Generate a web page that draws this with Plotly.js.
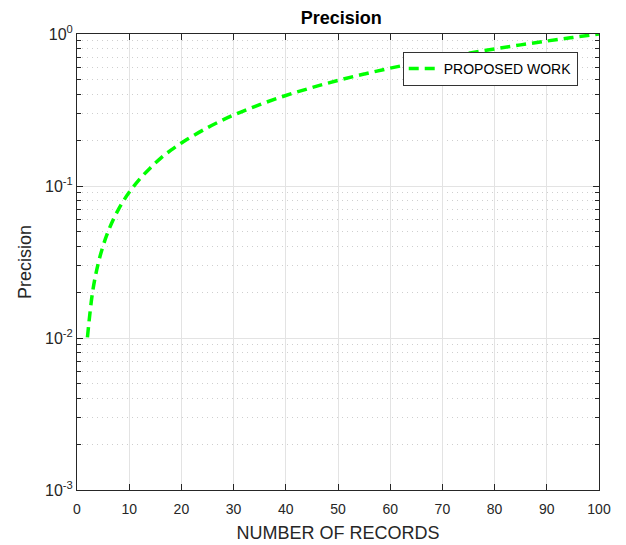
<!DOCTYPE html>
<html>
<head>
<meta charset="utf-8">
<script src="https://cdn.plot.ly/plotly-3.0.1.min.js"></script>
<style>html,body{margin:0;padding:0;background:#fff;}#chart{width:626px;height:545px;}</style>
</head>
<body>
<div id="chart"></div>
<script>
const records = [2,3,4,5,6,7,8,9,10,12,14,16,18,20,25,30,35,40,45,50,55,60,65,70,75,80,85,90,95,100];
const precision = [0.0101,0.0202,0.0303,0.0404,0.0505,0.0606,0.0707,0.0808,0.0909,0.111,0.131,0.152,0.172,0.192,0.242,0.293,0.343,0.394,0.444,0.495,0.545,0.596,0.646,0.697,0.747,0.798,0.848,0.899,0.949,1.0];
const yTickVals = [0.001,0.01,0.1,1];
const yTickText = ['10<sup>-3</sup>','10<sup>-2</sup>','10<sup>-1</sup>','10<sup>0</sup>'];
const xTickVals = [0,10,20,30,40,50,60,70,80,90,100];

const minorVals = [];
[0.001,0.01,0.1].forEach(d => { for (let k = 2; k <= 9; k++) minorVals.push(d*k); });

const trace = {
  x: records, y: precision, type: 'scatter', mode: 'lines',
  name: 'PROPOSED WORK',
  line: {color: '#00ff00', width: 3.5, dash: '10px,6px', shape: 'spline'}
};

const layout = {
  width: 626, height: 545,
  margin: {l: 76.5, r: 27, t: 34, b: 55},
  paper_bgcolor: '#fff', plot_bgcolor: '#fff',
  font: {family: 'Liberation Sans, Arial, sans-serif', color: '#262626'},
  title: {text: '<b>Precision</b>', x: 0.545, xanchor: 'center', y: 0.967, yanchor: 'middle', font: {size: 18, color: '#000'}},
  showlegend: true,
  legend: {x: 0.624, y: 0.961, xanchor: 'left', yanchor: 'top', bgcolor: '#fff', bordercolor: '#333', borderwidth: 1, font: {size: 14, color: '#000'}},
  xaxis: {
    range: [0, 100], tickmode: 'array', tickvals: xTickVals,
    ticks: 'inside', ticklen: 6, tickcolor: '#262626', tickwidth: 1,
    showline: true, linecolor: '#262626', linewidth: 1, mirror: 'ticks',
    showgrid: true, gridcolor: '#e3e3e3', gridwidth: 1, zeroline: false,
    tickfont: {size: 14, color: '#262626'}, ticklabelstandoff: 6,
    title: {text: 'NUMBER OF RECORDS', font: {size: 18, color: '#262626'}, standoff: 10}
  },
  yaxis: {
    type: 'log', range: [-3, 0], tickmode: 'array', tickvals: yTickVals, ticktext: yTickText,
    ticks: 'inside', ticklen: 6, tickcolor: '#262626', tickwidth: 1,
    showline: true, linecolor: '#262626', linewidth: 1, mirror: 'ticks',
    showgrid: true, gridcolor: '#e3e3e3', gridwidth: 1, zeroline: false,
    tickfont: {size: 16, color: '#262626'},
    minor: {tickmode: 'array', tickvals: minorVals, ticks: 'inside', ticklen: 4, tickcolor: '#262626', showgrid: true, gridcolor: '#cfcfcf', griddash: '1px,4px', gridwidth: 1},
    title: {text: 'Precision', font: {size: 18, color: '#262626'}, standoff: 8}
  }
};

Plotly.newPlot('chart', [trace], layout, {displayModeBar: false, staticPlot: true});
</script>
</body>
</html>
